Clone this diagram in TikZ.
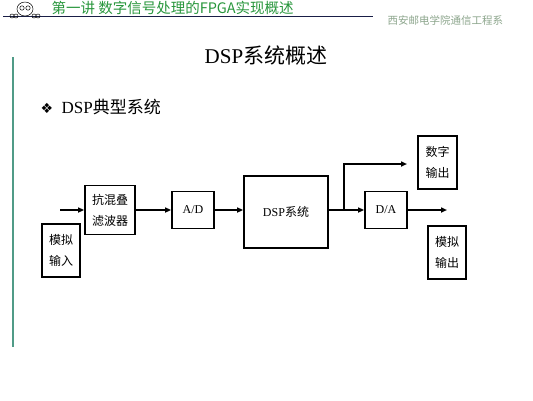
\documentclass[tikz,border=0pt]{standalone}
\usepackage{fontspec}
\setmainfont{Liberation Serif}
\newfontfamily\cjk{Noto Sans CJK SC}
\newfontfamily\symb{DejaVu Sans}
\usepackage{xcolor}
\usetikzlibrary{arrows.meta, positioning, calc}

\definecolor{headgreen}{RGB}{40,150,60}
\definecolor{rulegray}{RGB}{140,165,140}
\definecolor{barteal}{RGB}{80,155,135}
\definecolor{rulenavy}{RGB}{25,30,70}

\begin{document}
\begin{tikzpicture}[x=1pt, y=-1pt,
    box/.style={draw, line width=1.8pt, align=center, inner sep=0pt, font=\fontsize{12}{21}\selectfont},
    sig/.style={line width=1.7pt, -{Triangle[length=6pt, width=5pt]}}]
  \useasboundingbox (0,0) rectangle (533,400);

  % page header
  \draw[rulenavy, line width=0.9pt] (3,16) -- (373,16);
  \draw[line width=0.5pt, fill=white] (25,9) ellipse (8pt and 7pt);
  \draw[line width=0.5pt] (22,8) circle (2.2pt) (28,8) circle (2.2pt);
  \draw[line width=0.5pt] (12,16) circle (2pt) (16,16) circle (2pt) (34,16) circle (2pt) (38,16) circle (2pt);
  \node[anchor=west, text=headgreen, font=\cjk\fontsize{14.5}{14.5}\selectfont] (chap) at (48,8)
    {第一讲\ 数字信号处理的FPGA实现概述};
  \node[anchor=west, text=rulegray, font=\cjk\fontsize{10.5}{10.5}\selectfont] (dept) at (384,20)
    {西安邮电学院通信工程系};
  \draw[barteal, line width=1.5pt] (13,57) -- (13,347);

  % slide title
  \node[font=\fontsize{21}{21}\selectfont] (title) at (266,56) {DSP{\cjk 系统概述}};
  \node[anchor=west, font=\fontsize{17}{17}\selectfont] (item) at (37,107)
    {{\symb\fontsize{14}{14}\selectfont ❖}\ \ DSP{\cjk 典型系统}};

  % blocks
  \node[box, minimum width=38pt, minimum height=53pt] (ain) at (61,250.5) {\cjk 模拟\\\cjk 输入};
  \node[box, minimum width=50pt, minimum height=49pt] (filt) at (110,210) {\cjk 抗混叠\\\cjk 滤波器};
  \node[box, minimum width=42pt, minimum height=37pt] (ad) at (193,210) {A/D};
  \node[box, minimum width=84pt, minimum height=72pt] (dsp) at (286,212) {DSP{\cjk 系统}};
  \node[box, minimum width=42pt, minimum height=37pt] (da) at (386,210) {D/A};
  \node[box, minimum width=39pt, minimum height=53pt] (dout) at (437.5,162.5) {\cjk 数字\\\cjk 输出};
  \node[box, minimum width=38pt, minimum height=53pt] (aout) at (447,252.5) {\cjk 模拟\\\cjk 输出};

  % signal path
  \coordinate (in) at (60,210);
  \coordinate (split) at (344,210);
  \coordinate (dtip) at (407,164);
  \coordinate (atip) at (447,210);
  \draw[sig] (in) -- (filt.west);
  \draw[sig] (filt.east) -- (ad.west);
  \draw[sig] (ad.east) -- (ad.east -| dsp.west);
  \draw[sig] (dsp.east |- split) -- (da.west);
  \draw[sig] (split) |- (dtip);
  \draw[sig] (da.east) -- (atip);
\end{tikzpicture}
\end{document}
